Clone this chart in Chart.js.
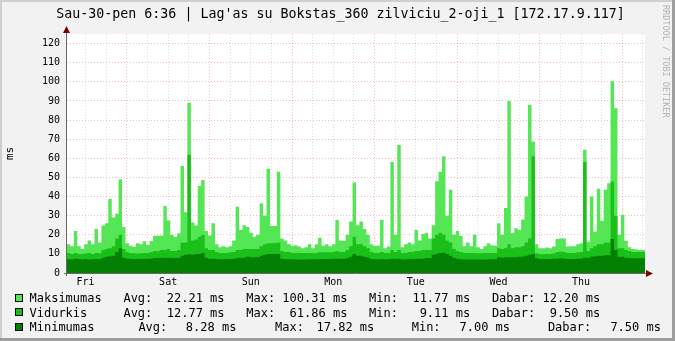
<!DOCTYPE html>
<html>
<head>
<meta charset="utf-8">
<title>Lag'as su Bokstas_360</title>
<script src="https://cdn.jsdelivr.net/npm/chart.js@4.4.1/dist/chart.umd.min.js"></script>
<style>
  html, body { margin: 0; padding: 0; background: #f2f2f2; }
  #wrap { position: relative; width: 675px; height: 341px; overflow: hidden; background: #f2f2f2;
          font-family: "DejaVu Sans Mono", monospace; color: #000; }
  #wrap canvas { position: absolute; left: 0; top: 0; }
  .txt { position: absolute; white-space: pre; line-height: normal; }
  .box { position: absolute; width: 6px; height: 6px; border: 1px solid #000; }
  #title { left: 3px; width: 675px; text-align: center; top: 5.6px; font-size: 13.3px; }
  #mark { left: 661px; top: 5px; font-size: 8.5px; color: #b4b4b4; writing-mode: vertical-rl; }
  .shade { position: absolute; }
</style>
</head>
<body>
<div id="wrap">
  <canvas id="chart" width="675" height="341"></canvas>
  <div id="title" class="txt">Sau-30-pen 6:36 | Lag'as su Bokstas_360 zilviciu_2-oji_1 [172.17.9.117]</div>
  <div id="legend"></div>
  <div id="mark" class="txt">RRDTOOL / TOBI OETIKER</div>
  <div class="shade" style="left:0;top:0;width:675px;height:2px;background:#cfcfcf"></div>
  <div class="shade" style="left:0;top:0;width:2px;height:341px;background:#cfcfcf"></div>
  <div class="shade" style="right:0;top:0;width:3px;height:341px;background:#9e9e9e"></div>
  <div class="shade" style="left:0;bottom:0;width:675px;height:3px;background:#9e9e9e"></div>
</div>
<script>
// one value per hour, week starting Fri 06:36
const maxValues = [
  13.5, 15, 14, 22, 14, 12.5, 15, 17, 15, 23, 16, 24.8,
  26, 38.7, 29, 31, 49, 24, 15.5, 14.3, 13.6, 15.5, 15, 16.6,
  14.7, 16.8, 19.5, 19.5, 19.5, 35, 27.5, 20, 19, 20.8, 56, 31.8,
  89, 26.4, 24.8, 45.5, 48.7, 22, 19.5, 26, 15, 13.5, 14, 13.5,
  14, 17, 34.7, 22.5, 25, 24, 21, 19, 20, 36.5, 30, 54.5,
  24.6, 24.6, 53, 18, 17, 15.2, 14.3, 14.5, 13.8, 13, 13.5, 15,
  13, 15, 18.5, 14.3, 15, 14, 15, 27.7, 17, 16.8, 20, 27,
  47.3, 25, 27, 23, 20, 15, 14.3, 14.3, 27.7, 13, 13.8, 58,
  20, 67, 13.5, 15, 16, 15, 22.5, 17, 20.4, 21, 18, 25,
  48, 53, 61, 30, 43.5, 20, 22, 19.4, 14, 16, 14, 20,
  13.5, 12.5, 14, 15.5, 14.5, 14.3, 26, 20, 34, 90, 21, 23.4,
  22.5, 28, 40, 88, 68.8, 15, 13, 13, 13.3, 13, 13.8, 17.8,
  18, 18, 13.8, 14, 14, 15, 15.5, 64.4, 16.4, 40, 21.6, 44,
  27.2, 43.5, 47, 100.3, 86.2, 20, 30.4, 16.8, 13.5, 12.5, 12.4, 12
];
const avgValues = [
  10, 10.5, 10, 10.5, 10, 10, 10.2, 10.5, 10, 10.5, 10.3, 12,
  12.5, 13, 14, 18, 20, 12.5, 11, 10.5, 10.3, 10.2, 10.3, 10.5,
  10.5, 11, 11.5, 11.5, 12, 12, 12.5, 11.5, 11.5, 12, 16, 16,
  61.8, 17, 17.5, 19, 20, 13, 12, 12, 11, 10.5, 10.5, 10.5,
  10.8, 11, 12, 12, 12.5, 12.5, 12.5, 12.5, 12.5, 14, 15, 15.5,
  15.5, 15.5, 16, 11.5, 11, 11, 10.5, 10.5, 10.5, 10.5, 10.5, 10.5,
  10.5, 10.5, 11, 10.8, 10.8, 10.8, 11, 11.5, 11, 11, 12, 14,
  19, 15, 15, 14, 13, 11, 10.5, 10.5, 11, 10.5, 10.5, 12,
  11, 12, 10.5, 10.5, 11, 11, 11.5, 11.5, 12, 12, 12, 18,
  20, 21, 20, 17, 16, 12.5, 11.5, 11, 10.5, 10.5, 10.5, 10.5,
  10.3, 10.3, 10.5, 10.5, 10.5, 10.5, 13, 12.5, 13, 15, 13, 13.5,
  13.5, 14, 16, 18, 61, 10.3, 9.8, 9.8, 10, 10, 10.2, 11,
  11.3, 11, 10.5, 10.5, 10.5, 10.8, 11, 58, 11.5, 13, 14, 15,
  15, 16, 16, 47.8, 30, 13, 13, 12, 11.5, 11, 11, 11
];
const minValues = [
  7, 7.2, 7, 7.5, 7.3, 7, 7.3, 7, 7.2, 7.3, 7.2, 8,
  8.5, 8.7, 9, 11, 13, 8, 7.5, 7.3, 7.2, 7.3, 7.2, 7.3,
  7.5, 7.5, 7.8, 7.8, 8, 8, 8, 7.8, 7.8, 8, 9, 9.5,
  10, 9.5, 10, 10, 10.5, 8, 7.5, 7.5, 7.3, 7.2, 7.2, 7.3,
  7.3, 7.5, 7.8, 7.8, 8, 8.5, 8.2, 8.3, 8.3, 9, 9.5, 10,
  10, 10, 10, 7.5, 7.2, 7.2, 7.2, 7, 7, 7, 7, 7.2,
  7.2, 7.2, 7.3, 7.3, 7.3, 7.3, 7.5, 7.5, 7.5, 7.5, 7.8, 8.5,
  10, 9, 9, 8.5, 8, 7.3, 7.2, 7.2, 7.3, 7.2, 7.2, 7.5,
  7.3, 7.5, 7, 7.2, 7.3, 7.3, 7.5, 7.5, 7.5, 7.8, 7.8, 9.5,
  10, 10.5, 10.6, 10, 9, 8, 7.5, 7.2, 7, 7, 7, 7,
  7, 7, 7, 7.2, 7.2, 7.2, 8.2, 8, 8.2, 8.3, 8.2, 8.3,
  8.5, 8.5, 9, 9.5, 10, 7.7, 7.3, 7.3, 7.3, 7.3, 7.4, 7.5,
  7.7, 7.5, 7.3, 7.3, 7.3, 7.5, 7.5, 8, 7.8, 8.5, 8.8, 9,
  9, 9.3, 9.3, 17.8, 12, 8.5, 8.5, 8, 7.8, 7.7, 7.7, 7.7
];

const dayLabels = ['Fri', 'Sat', 'Sun', 'Mon', 'Tue', 'Wed', 'Thu'];
const yLabels = [0, 10, 20, 30, 40, 50, 60, 70, 80, 90, 100, 110, 120];
const firstNoon = 5.4;   // hours from 06:36 to 12:00
const yMax = 125;

const seriesNames = ['Maksimumas', 'Vidurkis', 'Minimumas'];
const statAvg = ['22.21', '12.77', '8.28'];
const statMax = ['100.31', '61.86', '17.82'];
const statMin = ['11.77', '9.11', '7.00'];
const statNow = ['12.20', '9.50', '7.50'];

const MAX_C = '#55e655', AVG_C = '#1abf1a', MIN_C = '#038003';
const GRID_C = 'rgba(143,143,143,0.3)', MGRID_C = 'rgba(222,48,46,0.32)';
const FONT = 'DejaVu Sans Mono';

// legend
const legend = document.getElementById('legend');
const baselines = [302.3, 316.8, 331.3];
const legFs = 12;
function addText(txt, x, base) {
  const d = document.createElement('div');
  d.className = 'txt';
  d.style.fontSize = legFs + 'px';
  d.style.left = x + 'px';
  d.style.top = (base - 0.928 * legFs) + 'px';
  d.textContent = txt;
  legend.appendChild(d);
}
[MAX_C, AVG_C, MIN_C].forEach((c, i) => {
  const b = document.createElement('div');
  b.className = 'box';
  b.style.background = c;
  b.style.left = '15px';
  b.style.top = (baselines[i] - 8.5) + 'px';
  legend.appendChild(b);
});
for (let i = 0; i < 2; i++) {
  addText(seriesNames[i].padEnd(13) + 'Avg:' + statAvg[i].padStart(7) + ' ms   Max:' +
    statMax[i].padStart(7) + ' ms   Min:' + statMin[i].padStart(7) + ' ms   Dabar:' +
    statNow[i].padStart(6) + ' ms', 29.5, baselines[i]);
}
addText(seriesNames[2], 29.5, baselines[2]);
addText('Avg:', 138.4, baselines[2]);
addText(statAvg[2] + ' ms', 185.8, baselines[2]);
addText('Max:', 275.1, baselines[2]);
addText(statMax[2] + ' ms', 316.5, baselines[2]);
addText('Min:', 411.7, baselines[2]);
addText(statMin[2] + ' ms', 459.5, baselines[2]);
addText('Dabar:', 547.9, baselines[2]);
addText(statNow[2] + ' ms', 610.4, baselines[2]);

function stepPoints(vals) {
  const pts = vals.map((v, i) => ({ x: i, y: v }));
  pts.push({ x: vals.length, y: vals[vals.length - 1] });
  return pts;
}
function area(label, vals, color) {
  return { label, data: stepPoints(vals), stepped: 'after', fill: 'origin',
           backgroundColor: color, borderWidth: 0, pointRadius: 0 };
}

const rrdFrame = {
  id: 'rrdFrame',
  beforeDraw(chart) {
    const { ctx, chartArea: a } = chart;
    ctx.save();
    ctx.fillStyle = '#f2f2f2';
    ctx.fillRect(0, 0, chart.width, chart.height);
    ctx.fillStyle = '#ffffff';
    ctx.fillRect(a.left, a.top, a.right - a.left, a.bottom - a.top);
    ctx.restore();
  },
  afterDraw(chart) {
    const { ctx, chartArea: a } = chart;
    ctx.save();
    ctx.strokeStyle = '#6a6a6a';
    ctx.lineWidth = 1;
    ctx.beginPath();
    ctx.moveTo(a.left - 3, a.bottom + 0.5);
    ctx.lineTo(a.right + 2, a.bottom + 0.5);
    ctx.moveTo(a.left - 0.5, a.bottom + 3);
    ctx.lineTo(a.left - 0.5, a.top - 2);
    ctx.stroke();
    ctx.fillStyle = '#7f0000';
    ctx.beginPath();
    ctx.moveTo(a.right + 1, a.bottom - 3);
    ctx.lineTo(a.right + 8, a.bottom + 0.5);
    ctx.lineTo(a.right + 1, a.bottom + 4);
    ctx.closePath();
    ctx.fill();
    ctx.beginPath();
    ctx.moveTo(a.left - 4, a.top - 1);
    ctx.lineTo(a.left - 0.5, a.top - 8);
    ctx.lineTo(a.left + 3, a.top - 1);
    ctx.closePath();
    ctx.fill();
    ctx.restore();
  }
};

const xTicks = [];
for (let t = firstNoon; t < maxValues.length; t += 6) xTicks.push(t);
const yTicks = [];
for (let v = 0; v <= yMax; v += 5) yTicks.push(v);

new Chart(document.getElementById('chart'), {
  type: 'line',
  data: {
    datasets: [
      area('Minimumas', minValues, MIN_C),
      area('Vidurkis', avgValues, AVG_C),
      area('Maksimumas', maxValues, MAX_C)
    ]
  },
  options: {
    responsive: false,
    animation: false,
    devicePixelRatio: 1,
    layout: { padding: { top: 34, right: 30, bottom: 48, left: 0 } },
    plugins: { legend: { display: false }, tooltip: { enabled: false } },
    scales: {
      x: {
        type: 'linear', min: 0, max: maxValues.length, z: 1,
        afterBuildTicks: s => { s.ticks = xTicks.map(v => ({ value: v })); },
        afterFit: s => { s.height = 20; },
        grid: {
          drawTicks: false, lineWidth: 1,
          color: c => Math.round((c.tick.value - firstNoon) / 6) % 4 === 2 ? MGRID_C : GRID_C
        },
        border: { display: false, dash: [1, 2] },
        ticks: {
          autoSkip: false, maxRotation: 0, padding: 3, color: '#000',
          font: { family: FONT, size: 10 },
          callback: v => {
            const k = Math.round((v - firstNoon) / 6);
            return k % 4 === 0 ? dayLabels[k / 4] : '';
          }
        }
      },
      y: {
        type: 'linear', min: 0, max: yMax, z: 1,
        afterBuildTicks: s => { s.ticks = yTicks.map(v => ({ value: v })); },
        afterFit: s => { s.width = 67; },
        grid: {
          drawTicks: false, lineWidth: 1,
          color: c => c.tick.value === 0 ? 'rgba(0,0,0,0)' : (c.tick.value % 10 === 0 ? MGRID_C : GRID_C)
        },
        border: { display: false, dash: [1, 2] },
        ticks: {
          padding: 7, color: '#000', font: { family: FONT, size: 10 },
          callback: v => yLabels.includes(v) ? String(v) : ''
        },
        title: { display: true, text: 'ms', color: '#000', font: { family: FONT, size: 11 }, padding: { top: 4, bottom: 0 } }
      }
    }
  },
  plugins: [rrdFrame]
});
</script>
</body>
</html>
